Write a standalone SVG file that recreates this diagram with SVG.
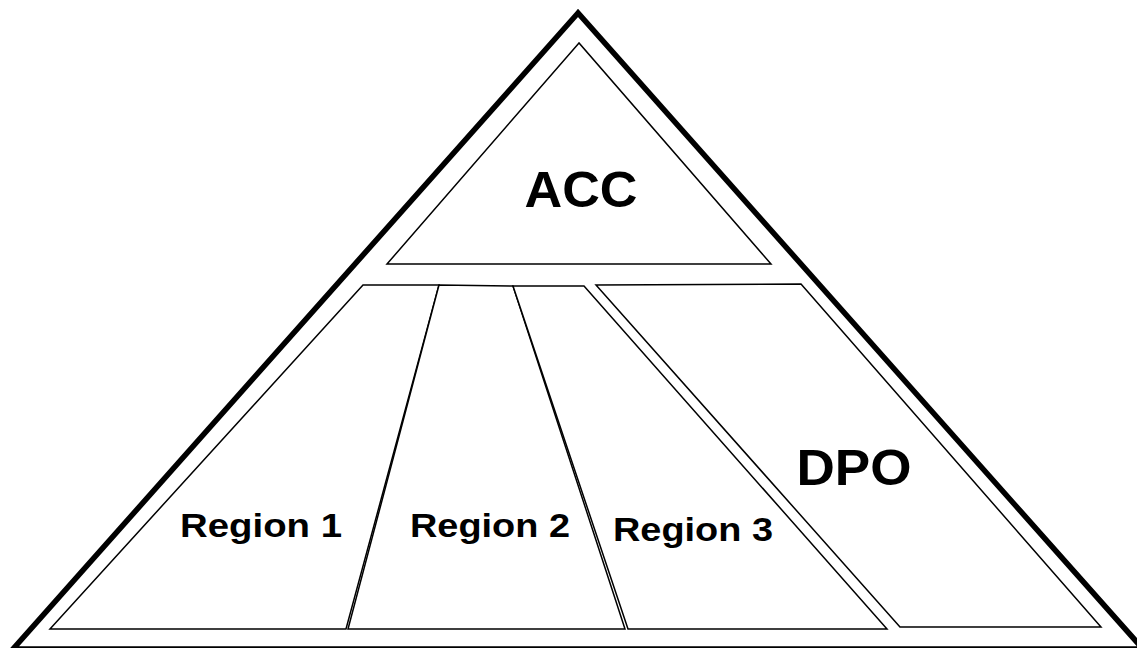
<svg xmlns="http://www.w3.org/2000/svg" width="1137" height="648" viewBox="0 0 1137 648">
  <style>
    .outer { fill: none; stroke: #000; stroke-width: 5.5; stroke-linejoin: miter; }
    .part { fill: #fff; stroke: #000; stroke-width: 1.5; stroke-linejoin: miter; }
    .big { font-family: "Liberation Sans", Arial, sans-serif; font-weight: bold; font-size: 50px; text-anchor: middle; fill: #000; }
    .lbl { font-family: "Liberation Sans", Arial, sans-serif; font-weight: bold; font-size: 34px; text-anchor: middle; fill: #000; }
  </style>
  <rect width="1137" height="648" fill="#fff"/>

  <!-- outer pyramid -->
  <g id="pyramid">
    <polygon class="outer" points="578,13 13,649 1143,649"/>
  </g>

  <!-- no connectors in this figure -->
  <g id="connectors"/>

  <g id="acc">
    <polygon class="part" points="579,43 387,264 771,264"/>
    <text class="big" x="581" y="207" textLength="113" lengthAdjust="spacingAndGlyphs">ACC</text>
  </g>

  <g id="region1">
    <polygon class="part" points="363,285 439,285 346,629 50,629"/>
    <text class="lbl" x="261" y="537" textLength="162" lengthAdjust="spacingAndGlyphs">Region 1</text>
  </g>

  <g id="region2">
    <polygon class="part" points="439,285 513,286 625,629 348,629"/>
    <text class="lbl" x="490" y="537" textLength="160" lengthAdjust="spacingAndGlyphs">Region 2</text>
  </g>

  <g id="region3">
    <polygon class="part" points="513,286 584,286 887,629 628,629"/>
    <text class="lbl" x="693" y="541" textLength="160" lengthAdjust="spacingAndGlyphs">Region 3</text>
  </g>

  <g id="dpo">
    <polygon class="part" points="596,285 801,284 1101,627 900,627"/>
    <text class="big" x="854" y="485" textLength="115" lengthAdjust="spacingAndGlyphs">DPO</text>
  </g>
</svg>
